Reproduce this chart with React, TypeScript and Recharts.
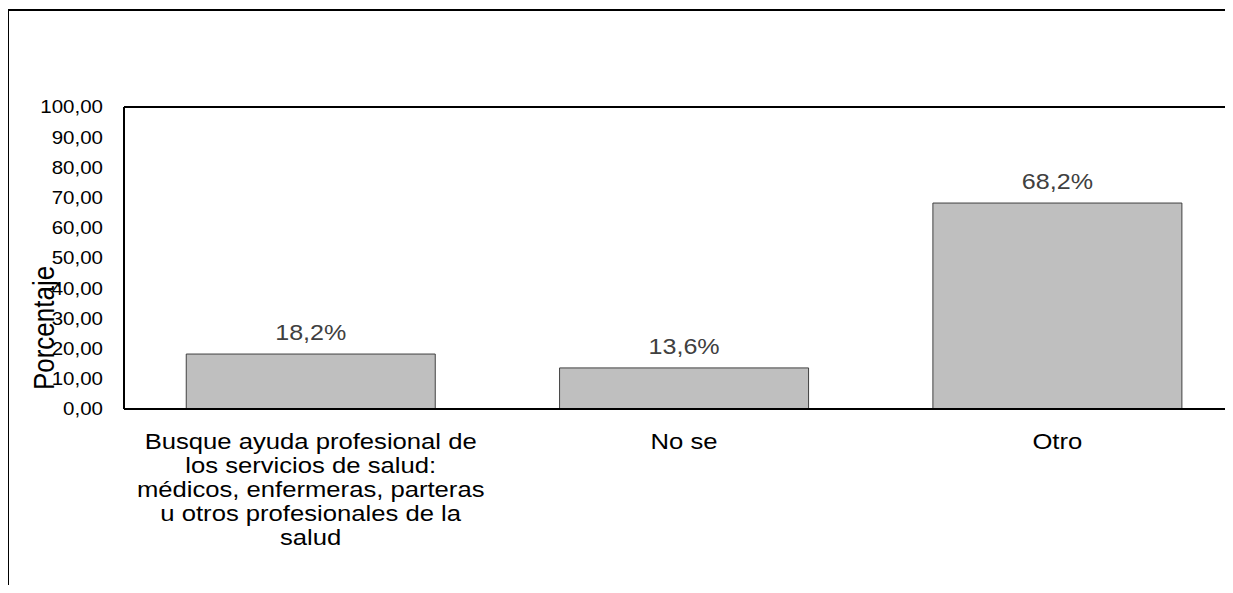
import { BarChart, Bar, XAxis, YAxis, LabelList, ReferenceLine } from "recharts";

const categories = [
  "Busque ayuda profesional de\nlos servicios de salud:\nmédicos, enfermeras, parteras\nu otros profesionales de la\nsalud",
  "No se",
  "Otro",
];
const percentages = [18.2, 13.6, 68.2];
const yTicks = [0, 10, 20, 30, 40, 50, 60, 70, 80, 90, 100];
const yTitle = "Porcentaje";

const data = categories.map((name, i) => ({ name, value: percentages[i] }));

const font = "'Liberation Sans', Arial, sans-serif";
// the source picture is a little wider than tall, so text is stretched sideways
const SX = 1.14;

const ValueTick = ({ x, y, payload }: any) => (
  <g transform={`translate(${x},${y}) scale(${SX},1)`}>
    <text x={0} y={0} dy="0.355em" textAnchor="end" fill="#000" fontSize={18} fontFamily={font}>
      {Number(payload.value).toFixed(2).replace(".", ",")}
    </text>
  </g>
);

const CategoryTick = ({ x, y, payload }: any) => {
  const lines = String(payload.value).split("\n");
  return (
    <g transform={`translate(${x},${y}) scale(${SX},1)`}>
      <text x={0} y={0} textAnchor="middle" fill="#000" fontSize={22.5} fontFamily={font}>
        {lines.map((line, i) => (
          <tspan key={i} x={0} dy={i === 0 ? 40 : 24}>
            {line}
          </tspan>
        ))}
      </text>
    </g>
  );
};

const ValueLabel = ({ x, y, width, value }: any) => (
  <g transform={`translate(${x + width / 2},${y - 14}) scale(${SX},1)`}>
    <text x={0} y={0} textAnchor="middle" fill="#404040" fontSize={22} fontFamily={font}>
      {Number(value).toFixed(1).replace(".", ",") + "%"}
    </text>
  </g>
);

const YTitle = ({ viewBox }: any) => {
  const cx = viewBox.x + 44;
  const cy = viewBox.y + viewBox.height / 2 + 70;
  return (
    <g transform={`translate(${cx},${cy}) scale(${SX},1) rotate(-90)`}>
      <text x={0} y={0} textAnchor="middle" dominantBaseline="central" fill="#000" fontSize={26} fontFamily={font}>
        {yTitle}
      </text>
    </g>
  );
};

export default function App() {
  return (
    <div
      style={{
        position: "relative",
        margin: -8,
        width: 1233,
        height: 593,
        overflow: "hidden",
        background: "#fff",
        fontFamily: font,
      }}
    >
      <div
        style={{
          position: "absolute",
          left: 7,
          top: 9,
          width: 1400,
          height: 800,
          border: "2px solid #000",
        }}
      />
      <div style={{ position: "absolute", left: 0, top: 0 }}>
        <BarChart
          width={1244}
          height={593}
          data={data}
          margin={{ top: 107, right: 0, bottom: 0, left: 0 }}
          barCategoryGap="16.67%"
        >
          <ReferenceLine y={100} stroke="#000" strokeWidth={2} />
          <YAxis
            width={124}
            domain={[0, 100]}
            ticks={yTicks}
            interval={0}
            tickLine={false}
            tickSize={0}
            tickMargin={21}
            axisLine={{ stroke: "#000", strokeWidth: 2 }}
            tick={<ValueTick />}
            label={<YTitle />}
          />
          <XAxis
            dataKey="name"
            height={184}
            interval={0}
            tickLine={false}
            tickSize={0}
            tickMargin={0}
            axisLine={{ stroke: "#000", strokeWidth: 2 }}
            tick={<CategoryTick />}
          />
          <Bar dataKey="value" fill="#bfbfbf" stroke="#404040" strokeWidth={1} isAnimationActive={false}>
            <LabelList dataKey="value" content={<ValueLabel />} />
          </Bar>
        </BarChart>
      </div>
    </div>
  );
}
